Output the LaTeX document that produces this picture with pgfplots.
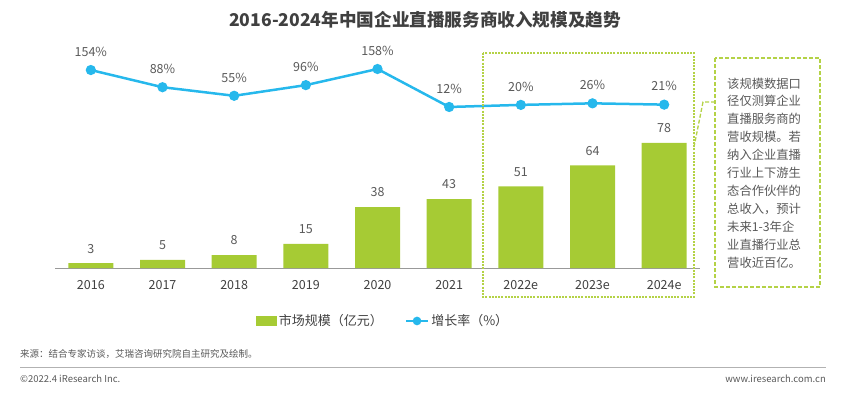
\documentclass[border=0pt]{standalone}
\usepackage{pgfplots}
\pgfplotsset{compat=1.18}
\usepackage{fontspec}
\setmainfont{Noto Sans CJK SC}
\definecolor{barc}{RGB}{166,203,52}
\definecolor{linec}{RGB}{38,184,236}
\definecolor{boxc}{RGB}{180,210,70}
\definecolor{txt}{RGB}{89,89,89}
\definecolor{dark}{RGB}{64,64,64}
\begin{document}
\begin{tikzpicture}
\path[use as bounding box] (0,0) rectangle (846pt,-397pt);
% title
\node[font=\fontsize{17.6}{20}\selectfont\bfseries, text=dark] at (425pt,-20pt) {2016-2024年中国企业直播服务商收入规模及趋势};
% bar axis
\begin{axis}[at={(55pt,-268pt)}, anchor=south west, width=645pt, height=218pt, scale only axis,
  xmin=-0.5, xmax=8.5, ymin=0, ymax=136,
  axis y line=none, axis x line*=bottom,
  x axis line style={draw=gray!80, line width=1pt},
  xtick={0,...,8}, xticklabels={2016,2017,2018,2019,2020,2021,2022e,2023e,2024e},
  major tick length=0pt,
  xticklabel style={font=\fontsize{12.5}{14}\selectfont, text=dark, yshift=-9pt},
  /pgf/number format/assume math mode=true,
  ybar, bar width=45pt,
  nodes near coords,
  nodes near coords style={font=\fontsize{12.5}{14}\selectfont, text=txt, yshift=6.5pt},
  clip=false]
\addplot[fill=barc, draw=none] coordinates {(0,3) (1,5) (2,8) (3,15) (4,38) (5,43) (6,51) (7,64) (8,78)};
\end{axis}
% line axis
\begin{axis}[at={(55pt,-268pt)}, anchor=south west, width=645pt, height=218pt, scale only axis,
  xmin=-0.5, xmax=8.5, ymin=-607, ymax=231, hide axis, clip=false,
  /pgf/number format/assume math mode=true,
  legend style={at={(0.509,-0.243)}, anchor=center, draw=none, fill=none, legend columns=2,
    font=\fontsize{13}{15}\selectfont, text=dark,
    /tikz/every even column/.append style={column sep=20pt}},
  legend image code/.code={\draw[#1] (0pt,0pt) -- (22pt,0pt); \fill[linec] (11pt,0pt) circle (3pt);},
  ]
\addlegendimage{legend image code/.code={\fill[barc] (0pt,-4.5pt) rectangle (20pt,4.5pt);}}
\addlegendentry{市场规模（亿元）}
\addplot[color=linec, line width=2.5pt, mark=*, mark size=3.8pt, mark options={fill=linec, draw=linec},
  nodes near coords={\pgfmathprintnumber{\pgfplotspointmeta}\%}, point meta=y,
  nodes near coords style={font=\fontsize{12.5}{14}\selectfont, text=txt, yshift=9pt}]
  coordinates {(0,154) (1,88) (2,55) (3,96) (4,158) (5,12) (6,20) (7,26) (8,21)};
\addlegendentry{增长率（\%）}
\end{axis}
% forecast box
\draw[boxc, line width=1.2pt, dash pattern=on 2pt off 1.2pt] (483pt,-53pt) rectangle (694pt,-297pt);
% note box
\draw[boxc, line width=1.6pt, dash pattern=on 4pt off 2pt] (715pt,-58pt) rectangle (820pt,-287pt);
\draw[boxc, line width=1.3pt, dash pattern=on 4pt off 2pt] (715pt,-102pt) -- (703pt,-102pt) -- (694pt,-147pt);
\node[anchor=north west, align=left, font=\fontsize{12.3}{17.9}\selectfont, text=txt, inner sep=0pt] at (727pt,-77.5pt)
 {该规模数据口\\径仅测算企业\\直播服务商的\\营收规模。若\\纳入企业直播\\行业上下游生\\态合作伙伴的\\总收入，预计\\未来1-3年企\\业直播行业总\\营收近百亿。};
% footer
\node[anchor=west, font=\fontsize{9.5}{11}\selectfont, text=txt, inner sep=0pt] at (20pt,-354pt) {来源：结合专家访谈，艾瑞咨询研究院自主研究及绘制。};
\draw[gray!60, line width=1pt] (20pt,-367pt) -- (826pt,-367pt);
\node[anchor=west, font=\fontsize{9.5}{11}\selectfont, text=txt, inner sep=0pt] at (20pt,-379pt) {©2022.4 iResearch Inc.};
\node[anchor=east, font=\fontsize{9.5}{11}\selectfont, text=txt, inner sep=0pt] at (826pt,-379pt) {www.iresearch.com.cn};
\end{tikzpicture}
\end{document}
